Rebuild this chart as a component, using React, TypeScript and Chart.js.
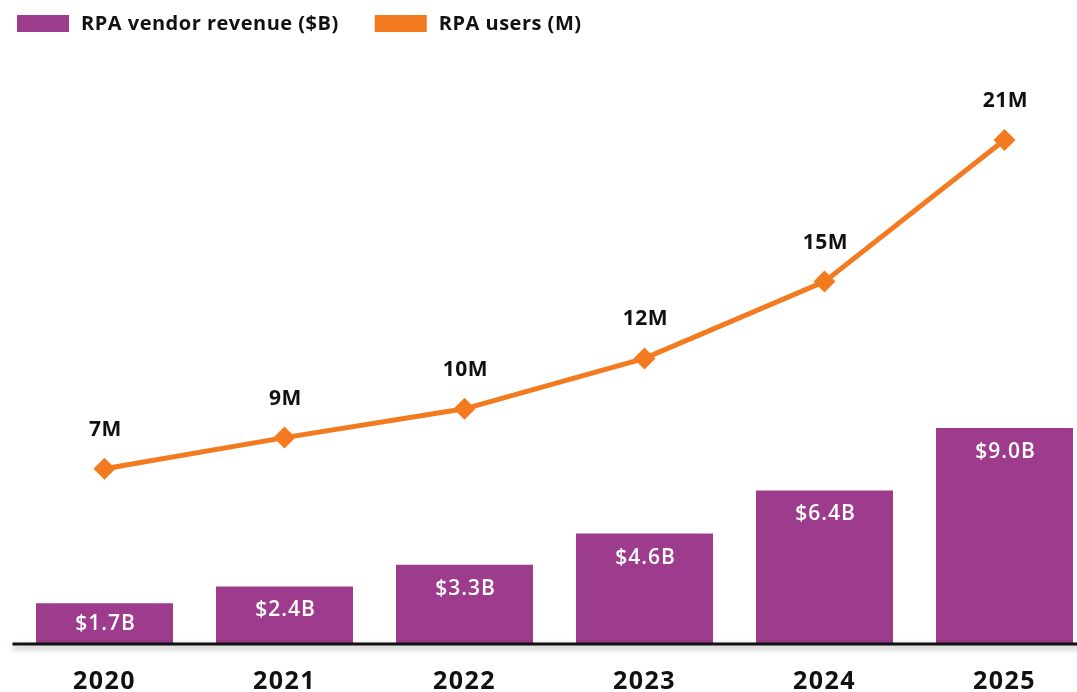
import React, { useEffect, useRef } from "react";
import { Chart, registerables } from "chart.js";

Chart.register(...registerables);

const categories = ["2020", "2021", "2022", "2023", "2024", "2025"];
const revenue = [1.7, 2.4, 3.3, 4.6, 6.4, 9.0];
const revenueLabels = ["$1.7B", "$2.4B", "$3.3B", "$4.6B", "$6.4B", "$9.0B"];
const users = [7.3, 8.6, 9.8, 11.9, 15.1, 21.0];
const userLabels = ["7M", "9M", "10M", "12M", "15M", "21M"];
const seriesNames = ["RPA vendor revenue ($B)", "RPA users (M)"];

const PURPLE = "#9D3C8C";
const ORANGE = "#F47A20";
const FONT = "'Open Sans', 'Noto Sans', sans-serif";

const customPlugin = {
  id: "custom",
  beforeDraw(chart: any) {
    (chart.ctx as any).letterSpacing = "1.5px";
  },
  afterDatasetsDraw(chart: any) {
    const { ctx, chartArea } = chart;
    ctx.save();
    // axis line with soft shadow
    ctx.shadowColor = "rgba(0,0,0,0.35)";
    ctx.shadowBlur = 6;
    ctx.shadowOffsetY = 3;
    ctx.strokeStyle = "#111";
    ctx.lineWidth = 3;
    ctx.beginPath();
    ctx.moveTo(chartArea.left - 2, chartArea.bottom);
    ctx.lineTo(chart.width, chartArea.bottom);
    ctx.stroke();
    ctx.restore();

    // bar labels
    ctx.save();
    const barMeta = chart.getDatasetMeta(0);
    ctx.fillStyle = "#fff";
    ctx.font = `600 21px ${FONT}`;
    (ctx as any).letterSpacing = "1px";
    ctx.textAlign = "center";
    ctx.textBaseline = "middle";
    barMeta.data.forEach((el: any, i: number) => {
      const y = Math.min(el.y + 24, (el.y + el.base) / 2);
      ctx.fillText(revenueLabels[i], el.x + 1, y);
    });
    // line labels
    const lineMeta = chart.getDatasetMeta(1);
    ctx.fillStyle = "#111";
    ctx.font = `bold 21px ${FONT}`;
    (ctx as any).letterSpacing = "0.5px";
    lineMeta.data.forEach((el: any, i: number) => {
      ctx.fillText(userLabels[i], el.x + 1, el.y - 39);
    });
    ctx.restore();
  },
  afterDraw(chart: any) {
    const { ctx } = chart;
    ctx.save();
    ctx.font = `bold 20px ${FONT}`;
    (ctx as any).letterSpacing = "0.5px";
    ctx.textBaseline = "middle";
    ctx.textAlign = "left";
    let x = 17;
    const colors = [PURPLE, ORANGE];
    seriesNames.forEach((name, i) => {
      ctx.fillStyle = colors[i];
      ctx.fillRect(x, 15, 52, 17);
      ctx.fillStyle = "#111";
      ctx.fillText(name, x + 64, 24);
      x += 64 + ctx.measureText(name).width + 36;
    });
    ctx.restore();
  },
};

export default function App() {
  const ref = useRef<HTMLCanvasElement>(null);
  useEffect(() => {
    document.body.style.overflow = "hidden";
    const chart = new Chart(ref.current as HTMLCanvasElement, {
      type: "bar",
      data: {
        labels: categories,
        datasets: [
          {
            type: "bar",
            label: seriesNames[0],
            data: revenue,
            backgroundColor: PURPLE,
            categoryPercentage: 0.761,
            barPercentage: 1,
            order: 2,
          } as any,
          {
            type: "line",
            label: seriesNames[1],
            data: users,
            borderColor: ORANGE,
            backgroundColor: ORANGE,
            borderWidth: 5,
            pointStyle: "rectRot",
            pointRadius: 11,
            pointBorderWidth: 0,
            pointBackgroundColor: ORANGE,
            tension: 0,
            order: 1,
          } as any,
        ],
      },
      options: {
        animation: false,
        responsive: true,
        maintainAspectRatio: false,
        layout: { padding: { left: 14.5, right: 25.5, top: 44, bottom: 0 } },
        plugins: { legend: { display: false }, tooltip: { enabled: false } },
        scales: {
          x: {
            grid: { display: false, drawTicks: false },
            border: { display: false },
            ticks: {
              color: "#111",
              font: { family: FONT, size: 25, weight: "bold" },
              padding: 23,
            },
          },
          y: { display: false, min: 0, max: 25 },
        },
      },
      plugins: [customPlugin],
    });
    return () => chart.destroy();
  }, []);
  return (
    <div style={{ position: "absolute", left: 0, top: 0, width: 1077, height: 692, overflow: "hidden", background: "#fff" }}>
      <div style={{ position: "relative", width: 1120, height: 720 }}>
        <canvas ref={ref} />
      </div>
    </div>
  );
}
